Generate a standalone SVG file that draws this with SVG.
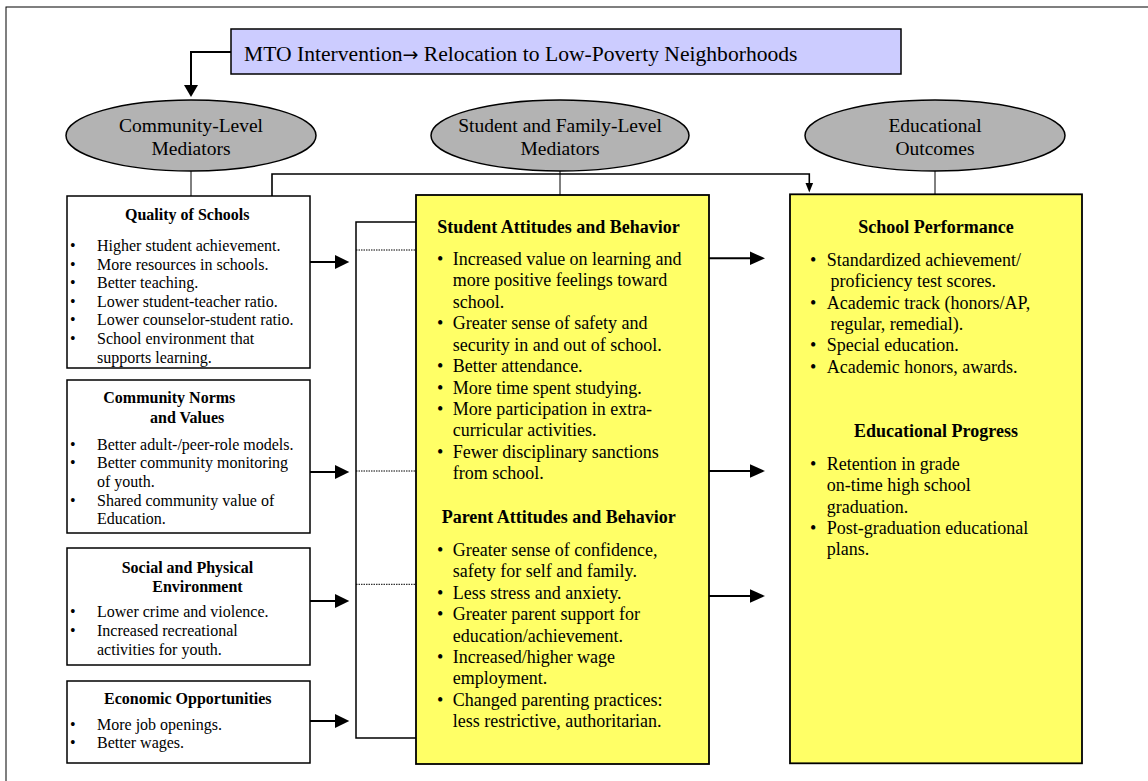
<svg xmlns="http://www.w3.org/2000/svg" width="1148" height="781" viewBox="0 0 1148 781">
<style>
text{font-family:"Liberation Serif","Times New Roman",serif;fill:#000}
.s16{font-size:16px}
.s18{font-size:18px}
.b{font-weight:bold}
.ell{fill:#b3b3b3;stroke:#000;stroke-width:1.5}
.wbox{fill:#fff;stroke:#000;stroke-width:1.5}
.ybox{fill:#ffff66;stroke:#000;stroke-width:1.8}
.thin{stroke:#000;stroke-width:1;fill:none}
.thick{stroke:#000;stroke-width:2;fill:none}
.dot{stroke:#000;stroke-width:1;stroke-dasharray:1.5 1;fill:none}
.head{fill:#000}
</style>
<rect x="6" y="7" width="1200" height="800" fill="#fff" stroke="#000" stroke-width="1"/>

<g id="connectors">
  <path class="thick" d="M231,52 H191 V86"/>
  <polygon class="head" points="184,85 198,85 191,97"/>
  <line class="thin" x1="191" y1="171" x2="191" y2="196"/>
  <line class="thin" x1="560" y1="171" x2="560" y2="195"/>
  <line class="thin" x1="935" y1="171" x2="935" y2="194"/>
  <path class="thick" d="M272,196 V174 H809.3 V184" style="stroke-width:1.6"/>
  <polygon class="head" points="805.5,183 813.1,183 809.3,192.5"/>
  <path d="M416,222 H356 V738 H416" fill="#fff" stroke="#000" stroke-width="1.5"/>
  <line class="dot" x1="356" y1="250" x2="416" y2="250"/>
  <line class="dot" x1="356" y1="471" x2="416" y2="471"/>
  <line class="dot" x1="356" y1="584.3" x2="416" y2="584.3"/>
  <line class="thick" x1="310" y1="262" x2="336" y2="262"/>
  <polygon class="head" points="335,255 349.3,262 335,269"/>
  <line class="thick" x1="310" y1="472" x2="336" y2="472"/>
  <polygon class="head" points="335,465 349.3,472 335,479"/>
  <line class="thick" x1="310" y1="601" x2="336" y2="601"/>
  <polygon class="head" points="335,594 349.3,601 335,608"/>
  <line class="thick" x1="310" y1="721" x2="336" y2="721"/>
  <polygon class="head" points="335,714 349.3,721 335,728"/>
  <line class="thick" x1="709" y1="258.3" x2="751" y2="258.3"/>
  <polygon class="head" points="750,251.6 765,258.3 750,265"/>
  <line class="thick" x1="709" y1="471" x2="751" y2="471"/>
  <polygon class="head" points="750,464.3 765,471 750,477.7"/>
  <line class="thick" x1="709" y1="596" x2="751" y2="596"/>
  <polygon class="head" points="750,589.3 765,596 750,602.7"/>
</g>

<g id="mto">
  <rect x="231" y="29" width="670" height="45" fill="#ccccff" stroke="#000" stroke-width="1.5"/>
  <text x="244" y="61" style="font-size:21.6px">MTO Intervention<tspan style="font-family:'DejaVu Sans',sans-serif;font-size:19px">→</tspan> Relocation to Low-Poverty Neighborhoods</text>
</g>

<g id="ell-community">
  <ellipse class="ell" cx="191" cy="135.5" rx="125" ry="35.5"/>
  <text x="191" y="132" text-anchor="middle" style="font-size:19.5px">Community-Level</text>
  <text x="191" y="155" text-anchor="middle" style="font-size:19.5px">Mediators</text>
</g>
<g id="ell-student">
  <ellipse class="ell" cx="560" cy="135.5" rx="129" ry="35.5"/>
  <text x="560" y="132" text-anchor="middle" style="font-size:19.5px">Student and Family-Level</text>
  <text x="560" y="155" text-anchor="middle" style="font-size:19.5px">Mediators</text>
</g>
<g id="ell-outcomes">
  <ellipse class="ell" cx="935" cy="135.5" rx="130" ry="35.5"/>
  <text x="935" y="132" text-anchor="middle" style="font-size:19.5px">Educational</text>
  <text x="935" y="155" text-anchor="middle" style="font-size:19.5px">Outcomes</text>
</g>

<g id="quality">
  <rect class="wbox" x="67" y="196" width="243" height="172"/>
  <text class="s16 b" x="125" y="219.5">Quality of Schools</text>
  <g class="s16">
    <text x="70" y="251">•</text><text x="97" y="251">Higher student achievement.</text>
    <text x="70" y="269.6">•</text><text x="97" y="269.6">More resources in schools.</text>
    <text x="70" y="288.2">•</text><text x="97" y="288.2">Better teaching.</text>
    <text x="70" y="306.8">•</text><text x="97" y="306.8">Lower student-teacher ratio.</text>
    <text x="70" y="325.4">•</text><text x="97" y="325.4">Lower counselor-student ratio.</text>
    <text x="70" y="344">•</text><text x="97" y="344">School environment that</text>
    <text x="97" y="362.6">supports learning.</text>
  </g>
</g>

<g id="norms">
  <rect class="wbox" x="67" y="380" width="243" height="153"/>
  <text class="s16 b" x="103.3" y="403.3">Community Norms</text>
  <text class="s16 b" x="150" y="422.7">and Values</text>
  <g class="s16">
    <text x="70" y="450">•</text><text x="97" y="450">Better adult-/peer-role models.</text>
    <text x="70" y="468.3">•</text><text x="97" y="468.3">Better community monitoring</text>
    <text x="97" y="486.6">of youth.</text>
    <text x="70" y="505.5">•</text><text x="97" y="505.5">Shared community value of</text>
    <text x="97" y="523.8">Education.</text>
  </g>
</g>

<g id="social">
  <rect class="wbox" x="67" y="548" width="243" height="117"/>
  <text class="s16 b" x="121.7" y="572.7">Social and Physical</text>
  <text class="s16 b" x="152.3" y="591.7">Environment</text>
  <g class="s16">
    <text x="70" y="616.7">•</text><text x="97" y="616.7">Lower crime and violence.</text>
    <text x="70" y="635.7">•</text><text x="97" y="635.7">Increased recreational</text>
    <text x="97" y="654.5">activities for youth.</text>
  </g>
</g>

<g id="economic">
  <rect class="wbox" x="67" y="681" width="243" height="82"/>
  <text class="s16 b" x="104" y="704">Economic Opportunities</text>
  <g class="s16">
    <text x="70" y="730">•</text><text x="97" y="730">More job openings.</text>
    <text x="70" y="748.3">•</text><text x="97" y="748.3">Better wages.</text>
  </g>
</g>

<g id="mediators">
  <rect class="ybox" x="416" y="195" width="293" height="569"/>
  <text class="s18 b" x="437.3" y="233">Student Attitudes and Behavior</text>
  <g class="s18">
    <text x="437" y="265">•</text><text x="452.7" y="265">Increased value on learning and</text>
    <text x="452.7" y="286.4">more positive feelings toward</text>
    <text x="452.7" y="307.9">school.</text>
    <text x="437" y="329.3">•</text><text x="452.7" y="329.3">Greater sense of safety and</text>
    <text x="452.7" y="350.7">security in and out of school.</text>
    <text x="437" y="372.1">•</text><text x="452.7" y="372.1">Better attendance.</text>
    <text x="437" y="393.6">•</text><text x="452.7" y="393.6">More time spent studying.</text>
    <text x="437" y="415">•</text><text x="452.7" y="415">More participation in extra-</text>
    <text x="452.7" y="436.4">curricular activities.</text>
    <text x="437" y="457.9">•</text><text x="452.7" y="457.9">Fewer disciplinary sanctions</text>
    <text x="452.7" y="479.3">from school.</text>
  </g>
  <text class="s18 b" x="441.7" y="522.7">Parent Attitudes and Behavior</text>
  <g class="s18">
    <text x="437" y="556">•</text><text x="452.7" y="556">Greater sense of confidence,</text>
    <text x="452.7" y="577.4">safety for self and family.</text>
    <text x="437" y="598.8">•</text><text x="452.7" y="598.8">Less stress and anxiety.</text>
    <text x="437" y="620.2">•</text><text x="452.7" y="620.2">Greater parent support for</text>
    <text x="452.7" y="641.6">education/achievement.</text>
    <text x="437" y="663">•</text><text x="452.7" y="663">Increased/higher wage</text>
    <text x="452.7" y="684.4">employment.</text>
    <text x="437" y="705.8">•</text><text x="452.7" y="705.8">Changed parenting practices:</text>
    <text x="452.7" y="727.2">less restrictive, authoritarian.</text>
  </g>
</g>

<g id="outcomes">
  <rect class="ybox" x="790" y="194.3" width="292" height="569"/>
  <text class="s18 b" x="936" y="233" text-anchor="middle">School Performance</text>
  <g class="s18">
    <text x="810" y="266">•</text><text x="826.7" y="266">Standardized achievement/</text>
    <text x="830.5" y="287.3">proficiency test scores.</text>
    <text x="810" y="308.6">•</text><text x="826.7" y="308.6">Academic track (honors/AP,</text>
    <text x="830.5" y="330">regular, remedial).</text>
    <text x="810" y="351.3">•</text><text x="826.7" y="351.3">Special education.</text>
    <text x="810" y="372.6">•</text><text x="826.7" y="372.6">Academic honors, awards.</text>
  </g>
  <text class="s18 b" x="936" y="437" text-anchor="middle">Educational Progress</text>
  <g class="s18">
    <text x="810" y="470">•</text><text x="826.7" y="470">Retention in grade</text>
    <text x="826.7" y="491.3">on-time high school</text>
    <text x="826.7" y="512.6">graduation.</text>
    <text x="810" y="534">•</text><text x="826.7" y="534">Post-graduation educational</text>
    <text x="826.7" y="555.3">plans.</text>
  </g>
</g>
</svg>
